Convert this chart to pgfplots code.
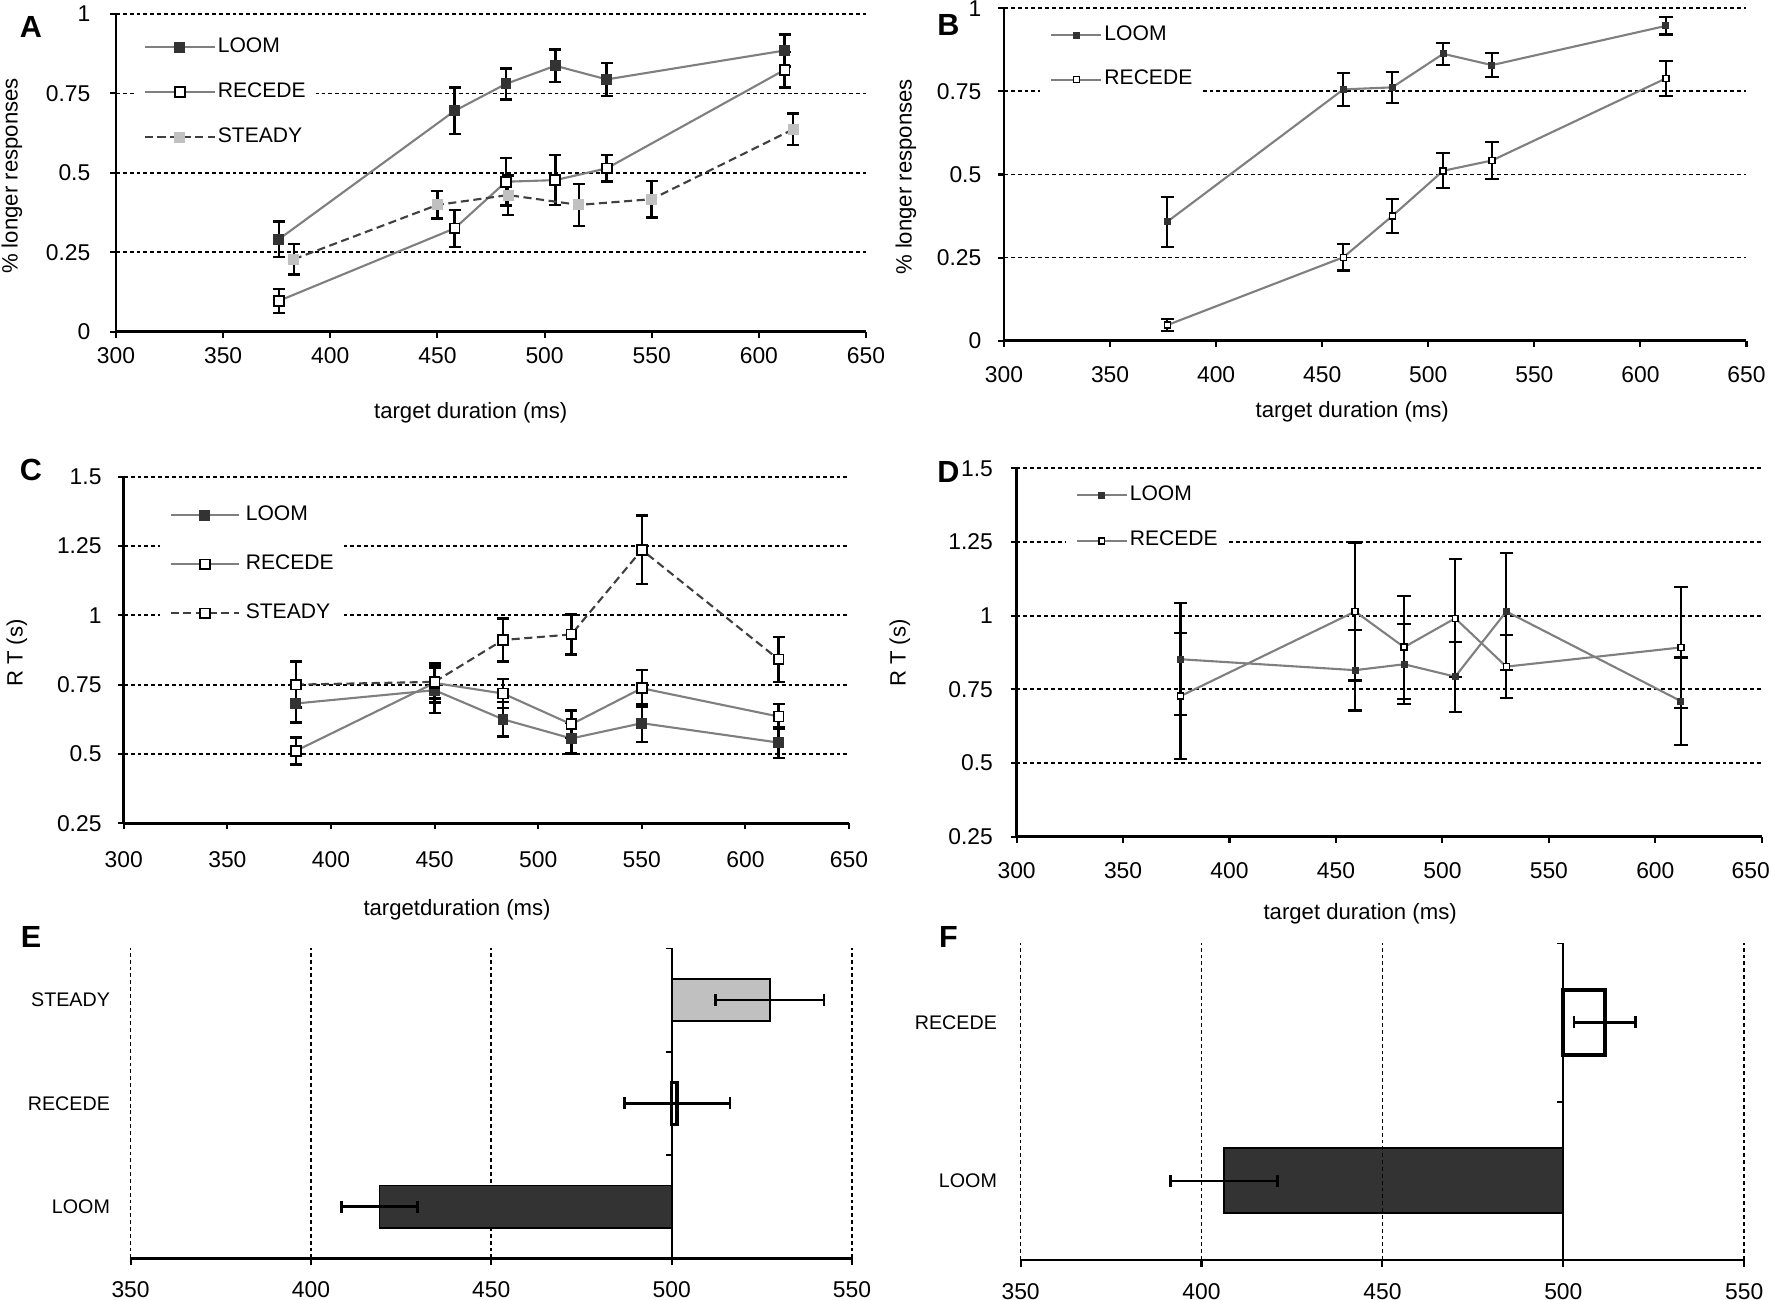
\documentclass[border=0pt]{standalone}
\usepackage{fontspec}
\setmainfont{Liberation Sans}
\usepackage{pgfplots}
\pgfplotsset{compat=1.18}
\definecolor{loomfill}{HTML}{333333}
\definecolor{linegray}{HTML}{7F7F7F}
\definecolor{steadyfill}{HTML}{C0C0C0}
\definecolor{dashgray}{HTML}{404040}
\newcommand{\tickfont}{\fontsize{6.5}{7.5}\selectfont}
\newcommand{\labfont}{\fontsize{6.3}{7.5}\selectfont}
\newcommand{\legfont}{\fontsize{6}{7}\selectfont}
\newcommand{\catfont}{\fontsize{5.6}{6.5}\selectfont}
\pgfplotsset{
  linepanel/.style={
    scale only axis,
    anchor=south west,
    axis x line=bottom, axis y line=left,
    axis line style={-, line width=0.75pt, black},
    tick align=outside,
    major tick length=0.06cm,
    tick style={black, line width=0.6pt},
    ymajorgrids,
    major grid style={line width=0.5pt, black, dash pattern=on 1.1pt off 0.85pt},
    xmin=300, xmax=650,
    xtick={300,350,400,450,500,550,600,650},
    xticklabels={300,350,400,450,500,550,600,650},
    tick label style={font=\tickfont},
    xticklabel style={anchor=center, inner sep=0pt},
    yticklabel style={anchor=east, inner sep=0pt},
    label style={font=\labfont},
    ylabel style={anchor=center},
    xlabel style={anchor=center},
    legend cell align=left,
    legend style={draw=none, fill=white, font=\legfont, anchor=north west,
      inner xsep=0.1cm, inner ysep=0.1cm,
      nodes={inner sep=0pt, text height=0.15cm, text depth=0.05cm}},
    error bars/error bar style={black, solid, line width=0.7pt},
    error bars/error mark options={rotate=90, black, solid, line width=0.7pt, mark size=1.7pt},
  },
  thinerr/.style={
    error bars/error bar style={black, solid, line width=0.6pt},
    error bars/error mark options={rotate=90, black, solid, line width=0.6pt, mark size=1.9pt},
  },
  loomA/.style={linegray, line width=0.6pt, mark=square*, mark size=1.4pt,
    mark options={solid, fill=loomfill, draw=loomfill, line width=0.3pt}},
  recA/.style={linegray, line width=0.6pt, mark=square*, mark size=1.4pt,
    mark options={solid, fill=white, draw=black, line width=0.5pt}},
  steadyA/.style={dashgray, line width=0.6pt, dash pattern=on 2.3pt off 1.3pt,
    mark=square*, mark size=1.4pt,
    mark options={solid, fill=steadyfill, draw=steadyfill, line width=0.3pt}},
  steadyC/.style={dashgray, line width=0.6pt, dash pattern=on 2.3pt off 1.3pt,
    mark=square*, mark size=1.4pt,
    mark options={solid, fill=white, draw=black, line width=0.5pt}},
  loomB/.style={linegray, line width=0.6pt, mark=square*, mark size=0.85pt,
    mark options={solid, fill=loomfill, draw=loomfill, line width=0.3pt}},
  recB/.style={linegray, line width=0.6pt, mark=square*, mark size=0.85pt,
    mark options={solid, fill=white, draw=black, line width=0.4pt}},
  barpanel/.style={
    scale only axis,
    anchor=south west,
    xbar, bar shift=0pt, bar width=0.41,
    axis x line=bottom, axis y line=left,
    axis line style={-, line width=0.75pt, black},
    y axis line style={draw=none},
    ytick style={draw=none},
    xtick style={black, line width=0.6pt},
    tick align=outside,
    major tick length=0.07cm,
    xmin=-150, xmax=50,
    xtick={-150,-100,-50,0,50},
    xticklabels={350,400,450,500,550},
    xmajorgrids,
    major grid style={line width=0.5pt, black, dash pattern=on 1.1pt off 0.85pt},
    xticklabel style={font=\tickfont, anchor=center, inner sep=0pt, yshift=-0.245cm},
    yticklabel style={font=\catfont, anchor=east, inner sep=0pt},
    error bars/error bar style={black, solid, line width=0.7pt, fill=none},
    error bars/error mark options={rotate=90, black, solid, line width=0.7pt, mark size=1.7pt},
  },
}
\begin{document}
\begin{tikzpicture}
\useasboundingbox (0,0) rectangle (17.72,13);

% ---------------- A ----------------
\begin{axis}[linepanel, at={(1.16cm,9.683cm)}, width=7.5cm, height=3.177cm,
  ymin=0, ymax=1, ytick={0,0.25,0.5,0.75,1}, yticklabels={0,0.25,0.5,0.75,1},
  xlabel={target duration (ms)}, ylabel={\% longer responses},
  xlabel style={at={(0.473,-0.256)}}, ylabel style={at={(-0.1387,0.49)}},
  xticklabel style={yshift=-0.183cm}, yticklabel style={xshift=-0.19cm},
  legend style={at={(0.0227,0.961)}, row sep=0.25cm,
    /tikz/every odd column/.append style={column sep=0.02cm}},
  legend image code/.code={\draw[mark repeat=2,mark phase=2,#1] plot coordinates {(0cm,0cm) (0.35cm,0cm) (0.7cm,0cm)};},
]
\addplot[loomA, error bars/.cd, y dir=both, y explicit] coordinates {
 (376,0.291) +- (0,0.056) (458,0.695) +- (0,0.073) (482,0.780) +- (0,0.049)
 (505,0.837) +- (0,0.051) (529,0.794) +- (0,0.052) (612,0.885) +- (0,0.051)};
\addlegendentry{LOOM}
\addplot[recA, error bars/.cd, y dir=both, y explicit] coordinates {
 (376,0.097) +- (0,0.038) (458,0.325) +- (0,0.058) (482,0.472) +- (0,0.075)
 (505,0.477) +- (0,0.079) (529,0.514) +- (0,0.042) (612,0.824) +- (0,0.056)};
\addlegendentry{RECEDE}
\addplot[steadyA, error bars/.cd, y dir=both, y explicit] coordinates {
 (383,0.228) +- (0,0.048) (450,0.399) +- (0,0.043) (483,0.430) +- (0,0.062)
 (516,0.399) +- (0,0.066) (550,0.417) +- (0,0.058) (616,0.637) +- (0,0.049)};
\addlegendentry{STEADY}
\end{axis}

% ---------------- B ----------------
\begin{axis}[linepanel, thinerr, at={(10.04cm,9.593cm)}, width=7.425cm, height=3.324cm,
  ymin=0, ymax=1, ytick={0,0.25,0.5,0.75,1}, yticklabels={0,0.25,0.5,0.75,1},
  xlabel={target duration (ms)}, ylabel={\% longer responses},
  xlabel style={at={(0.469,-0.213)}}, ylabel style={at={(-0.132,0.4925)}},
  xticklabel style={yshift=-0.28cm}, yticklabel style={xshift=-0.16cm},
  legend style={at={(0.048,0.981)}, row sep=0.243cm,
    /tikz/every odd column/.append style={column sep=0.02cm}},
  legend image code/.code={\draw[mark repeat=2,mark phase=2,#1] plot coordinates {(0cm,0cm) (0.25cm,0cm) (0.5cm,0cm)};},
]
\addplot[loomB, error bars/.cd, y dir=both, y explicit] coordinates {
 (377,0.358) +- (0,0.075) (460,0.756) +- (0,0.049) (483,0.762) +- (0,0.047)
 (507,0.863) +- (0,0.033) (530,0.829) +- (0,0.037) (612,0.947) +- (0,0.026)};
\addlegendentry{LOOM}
\addplot[recB, error bars/.cd, y dir=both, y explicit] coordinates {
 (377,0.047) +- (0,0.018) (460,0.251) +- (0,0.040) (483,0.375) +- (0,0.052)
 (507,0.511) +- (0,0.053) (530,0.542) +- (0,0.055) (612,0.789) +- (0,0.053)};
\addlegendentry{RECEDE}
\end{axis}

% ---------------- C ----------------
\begin{axis}[linepanel, at={(1.238cm,4.767cm)}, width=7.252cm, height=3.466cm,
  ymin=0.25, ymax=1.5, ytick={0.25,0.5,0.75,1,1.25,1.5}, yticklabels={0.25,0.5,0.75,1,1.25,1.5},
  xlabel={targetduration (ms)}, ylabel={R T (s)},
  xlabel style={at={(0.4595,-0.25)}}, ylabel style={at={(-0.1473,0.491)}},
  xticklabel style={yshift=-0.30cm}, yticklabel style={xshift=-0.156cm},
  legend style={at={(0.0485,0.948)}, row sep=0.29cm,
    /tikz/every odd column/.append style={column sep=0.06cm}},
  legend image code/.code={\draw[mark repeat=2,mark phase=2,#1] plot coordinates {(0cm,0cm) (0.34cm,0cm) (0.68cm,0cm)};},
]
\addplot[loomA, error bars/.cd, y dir=both, y explicit] coordinates {
 (383,0.682) +- (0,0.069) (450,0.730) +- (0,0.082) (483,0.625) +- (0,0.062)
 (516,0.556) +- (0,0.055) (550,0.611) +- (0,0.068) (616,0.541) +- (0,0.055)};
\addlegendentry{LOOM}
\addplot[recA, error bars/.cd, y dir=both, y explicit] coordinates {
 (383,0.511) +- (0,0.049) (450,0.756) +- (0,0.070) (483,0.718) +- (0,0.052)
 (516,0.607) +- (0,0.050) (550,0.737) +- (0,0.066) (616,0.635) +- (0,0.045)};
\addlegendentry{RECEDE}
\addplot[steadyC, error bars/.cd, y dir=both, y explicit] coordinates {
 (383,0.750) +- (0,0.083) (450,0.760) +- (0,0.060) (483,0.911) +- (0,0.078)
 (516,0.931) +- (0,0.072) (550,1.236) +- (0,0.124) (616,0.841) +- (0,0.081)};
\addlegendentry{STEADY}
\end{axis}

% ---------------- D ----------------
\begin{axis}[linepanel, thinerr, at={(10.166cm,4.633cm)}, width=7.452cm, height=3.684cm,
  ymin=0.25, ymax=1.5, ytick={0.25,0.5,0.75,1,1.25,1.5}, yticklabels={0.25,0.5,0.75,1,1.25,1.5},
  xticklabels={300,350,400,450,500,550,600,{\hspace*{0.16cm}\makebox[0pt][r]{650}}},
  xlabel={target duration (ms)}, ylabel={R T (s)},
  xlabel style={at={(0.461,-0.21)}}, ylabel style={at={(-0.1565,0.4986)}},
  xticklabel style={yshift=-0.283cm}, yticklabel style={xshift=-0.17cm},
  legend style={at={(0.065,0.983)}, row sep=0.256cm,
    /tikz/every odd column/.append style={column sep=0.02cm}},
  legend image code/.code={\draw[mark repeat=2,mark phase=2,#1] plot coordinates {(0cm,0cm) (0.25cm,0cm) (0.5cm,0cm)};},
]
\addplot[loomB, error bars/.cd, y dir=both, y explicit] coordinates {
 (377,0.852) +- (0,0.190) (459,0.815) +- (0,0.137) (482,0.835) +- (0,0.136)
 (506,0.793) +- (0,0.119) (530,1.014) +- (0,0.198) (612,0.710) +- (0,0.148)};
\addlegendentry{LOOM}
\addplot[recB, error bars/.cd, y dir=both, y explicit] coordinates {
 (377,0.727) +- (0,0.214) (459,1.014) +- (0,0.234) (482,0.893) +- (0,0.175)
 (506,0.991) +- (0,0.200) (530,0.827) +- (0,0.107) (612,0.892) +- (0,0.204)};
\addlegendentry{RECEDE}
\end{axis}

% ---------------- E ---------------- (x values: difference from 500 ms)
\begin{axis}[barpanel, at={(1.306cm,0.417cm)}, width=7.214cm, height=3.10cm,
  ymin=0.5, ymax=3.5, ytick={1,2,3}, yticklabels={LOOM,RECEDE,STEADY},
  yticklabel style={xshift=-0.13cm},
]
\addplot[fill=loomfill, draw=black, line width=0.5pt,
  error bars/.cd, x dir=both, x explicit] coordinates {(-81,1) +- (10.5,0)};
\addplot[fill=white, draw=black, line width=0.9pt,
  error bars/.cd, x dir=both, x explicit] coordinates {(1.5,2) +- (14.6,0)};
\addplot[fill=steadyfill, draw=black, line width=0.5pt,
  error bars/.cd, x dir=both, x explicit] coordinates {(27.2,3) +- (15,0)};
\draw[black, line width=0.6pt] (axis cs:0,0.5) -- (axis cs:0,3.5);
\draw[black, line width=0.6pt] (axis cs:0,1.5) -- (axis cs:-1.7,1.5);
\draw[black, line width=0.6pt] (axis cs:0,2.5) -- (axis cs:-1.7,2.5);
\draw[black, line width=0.6pt] (axis cs:0,3.5) -- (axis cs:-1.7,3.5);
\end{axis}

% ---------------- F ---------------- (x values: difference from 500 ms)
\begin{axis}[barpanel, at={(10.206cm,0.40cm)}, width=7.236cm, height=3.167cm,
  axis on top,
  ymin=0.5, ymax=2.5, ytick={1,2}, yticklabels={LOOM,RECEDE},
  yticklabel style={xshift=-0.16cm},
]
\addplot[fill=loomfill, draw=black, line width=0.5pt,
  error bars/.cd, x dir=both, x explicit] coordinates {(-93.8,1) +- (14.8,0)};
\addplot[fill=white, draw=black, line width=1.1pt,
  error bars/.cd, x dir=both, x explicit] coordinates {(11.5,2) +- (8.5,0)};
\draw[black, line width=0.6pt] (axis cs:0,0.5) -- (axis cs:0,2.5);
\draw[black, line width=0.6pt] (axis cs:0,1.5) -- (axis cs:-1.7,1.5);
\draw[black, line width=0.6pt] (axis cs:0,2.5) -- (axis cs:-1.7,2.5);
\end{axis}

% panel letters
\node[font=\bfseries\fontsize{8.7}{9}\selectfont] at (0.31,12.73) {A};
\node[font=\bfseries\fontsize{8.7}{9}\selectfont] at (9.485,12.75) {B};
\node[font=\bfseries\fontsize{8.7}{9}\selectfont] at (0.31,8.30) {C};
\node[font=\bfseries\fontsize{8.7}{9}\selectfont] at (9.485,8.283) {D};
\node[font=\bfseries\fontsize{8.7}{9}\selectfont] at (0.31,3.633) {E};
\node[font=\bfseries\fontsize{8.7}{9}\selectfont] at (9.485,3.633) {F};
\end{tikzpicture}
\end{document}
